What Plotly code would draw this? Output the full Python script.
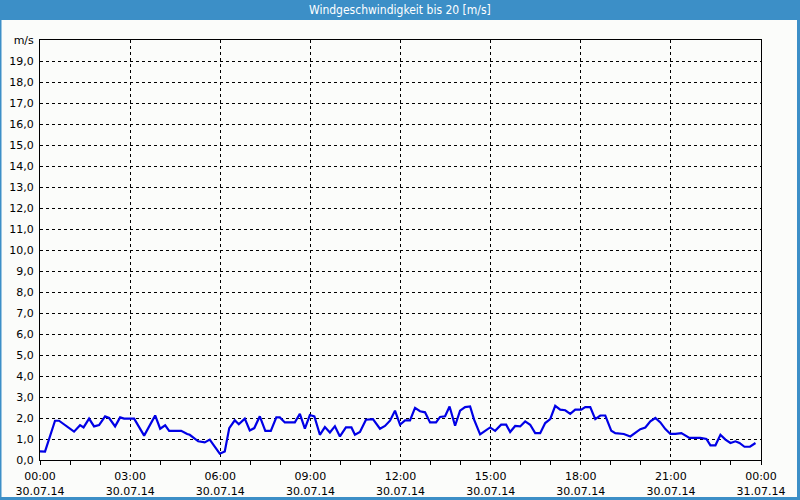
import plotly.graph_objects as go

# ---- data ----
times = ["00:00","00:10","00:30","00:38","01:08","01:20","01:27","01:38","01:48","01:58",
         "02:10","02:18","02:30","02:40","02:48","03:08","03:28","03:50","04:00","04:10",
         "04:18","04:42","04:54","04:59","05:16","05:29","05:39","05:59","06:09","06:18",
         "06:29","06:37","06:49","06:59","07:08","07:19","07:30","07:41","07:52","07:59",
         "08:09","08:29","08:39","08:49","08:59","09:08","09:19","09:29","09:39","09:49",
         "09:59","10:11","10:22","10:29","10:39","10:51","11:05","11:19","11:29","11:39",
         "11:49","11:59","12:09","12:19","12:29","12:39","12:49","12:59","13:11","13:19",
         "13:29","13:38","13:49","13:59","14:09","14:19","14:27","14:39","14:49","14:59",
         "15:09","15:21","15:31","15:39","15:49","15:59","16:09","16:19","16:29","16:39",
         "16:49","16:59","17:09","17:19","17:29","17:39","17:49","18:01","18:09","18:19",
         "18:29","18:39","18:49","19:01","19:09","19:26","19:39","19:49","19:59","20:09",
         "20:19","20:29","20:39","20:49","20:59","21:09","21:21","21:37","21:59","22:11",
         "22:19","22:29","22:39","22:49","22:59","23:09","23:17","23:27","23:38","23:49"]
speed = [0.41,0.40,1.87,1.87,1.35,1.66,1.55,1.97,1.60,1.66,
         2.08,2.00,1.60,2.03,1.97,1.97,1.16,2.12,1.49,1.65,
         1.39,1.39,1.24,1.20,0.89,0.84,0.97,0.30,0.41,1.52,
         1.89,1.70,1.97,1.41,1.52,2.08,1.39,1.39,2.03,2.03,
         1.79,1.79,2.20,1.49,2.14,2.08,1.20,1.57,1.31,1.61,
         1.12,1.55,1.55,1.20,1.33,1.92,1.95,1.49,1.62,1.87,
         2.35,1.68,1.89,1.89,2.48,2.32,2.27,1.79,1.79,2.05,
         2.08,2.55,1.63,2.35,2.52,2.55,1.92,1.22,1.39,1.55,
         1.39,1.68,1.68,1.33,1.62,1.60,1.84,1.68,1.28,1.28,
         1.76,1.95,2.58,2.40,2.37,2.20,2.40,2.40,2.52,2.52,
         1.95,2.12,2.12,1.39,1.28,1.24,1.12,1.28,1.47,1.55,
         1.84,2.00,1.79,1.47,1.24,1.24,1.28,1.05,1.05,1.00,
         0.70,0.70,1.20,0.97,0.81,0.89,0.81,0.63,0.63,0.81]
day = "2014-07-30"
x_tick_vals = ["2014-07-30 00:00","2014-07-30 03:00","2014-07-30 06:00","2014-07-30 09:00",
               "2014-07-30 12:00","2014-07-30 15:00","2014-07-30 18:00","2014-07-30 21:00",
               "2014-07-31 00:00"]
x_tick_text = ["00:00<br>30.07.14","03:00<br>30.07.14","06:00<br>30.07.14","09:00<br>30.07.14",
               "12:00<br>30.07.14","15:00<br>30.07.14","18:00<br>30.07.14","21:00<br>30.07.14",
               "00:00<br>31.07.14"]
y_tick_vals = list(range(0, 21))
y_tick_text = [f"{v},0" for v in range(0, 20)] + ["m/s"]
title = "Windgeschwindigkeit bis 20 [m/s]"

xs = [f"{day} {t}" for t in times]

fig = go.Figure()
fig.add_trace(go.Scatter(x=xs, y=speed, mode="lines",
                         line=dict(color="#0000E6", width=2.2), hoverinfo="skip"))

bg = "#FBFCFA"
blue = "#3C8FC7"
font = dict(family="DejaVu Sans", size=11, color="black")

fig.update_layout(
    width=800, height=500,
    margin=dict(l=40, r=39, t=40, b=40),
    paper_bgcolor=bg, plot_bgcolor=bg,
    showlegend=False,
    font=font,
    xaxis=dict(
        type="date",
        range=["2014-07-30 00:00", "2014-07-31 00:00"],
        tickmode="array", tickvals=x_tick_vals, ticktext=x_tick_text,
        showgrid=True, gridcolor="black", gridwidth=1, griddash="3px,3px",
        showline=True, linecolor="black", linewidth=1, mirror=True,
        ticks="outside", ticklen=4, tickcolor="black",
        minor=dict(tickmode="linear", tick0="2014-07-30 00:00", dtick=3600000,
                   ticks="outside", ticklen=4, tickcolor="black", showgrid=False),
        zeroline=False, fixedrange=True, tickfont=font, automargin=False,
        ticklabelstandoff=2,
    ),
    yaxis=dict(
        range=[0, 20],
        tickmode="array", tickvals=y_tick_vals, ticktext=y_tick_text,
        showgrid=True, gridcolor="black", gridwidth=1, griddash="3px,3px",
        showline=True, linecolor="black", linewidth=1, mirror=True,
        ticks="", ticklabelstandoff=3, automargin=False,
        zeroline=False, fixedrange=True, tickfont=font,
    ),
)

ph = 420.0
pw = 721.0
# title bar
fig.add_shape(type="rect", xref="paper", yref="paper",
              x0=-40/pw, x1=(800-40)/pw, y0=1+20/ph, y1=1+41/ph,
              fillcolor=blue, line=dict(width=0), layer="above")
fig.add_annotation(text=title, xref="paper", yref="paper",
                   x=(400-40)/pw, y=1+30/ph, showarrow=False,
                   xanchor="center", yanchor="middle",
                   font=dict(family="DejaVu Sans Condensed", size=12, color="white"))
# outer border
fig.add_shape(type="rect", xref="paper", yref="paper",
              x0=-40/pw, x1=-38.5/pw, y0=-40/ph, y1=1+20/ph,
              fillcolor=blue, line=dict(width=0))
fig.add_shape(type="rect", xref="paper", yref="paper",
              x0=(797-40)/pw, x1=(800-40)/pw, y0=-40/ph, y1=1+20/ph,
              fillcolor=blue, line=dict(width=0))
fig.add_shape(type="rect", xref="paper", yref="paper",
              x0=-40/pw, x1=(800-40)/pw, y0=-40/ph, y1=-37/ph,
              fillcolor=blue, line=dict(width=0))

fig.write_html("out.html")
